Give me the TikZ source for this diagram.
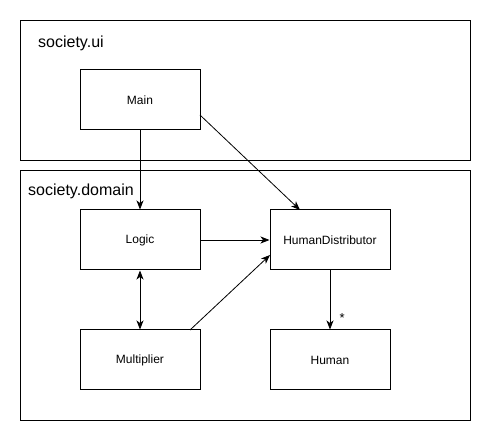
\documentclass[tikz,border=0pt]{standalone}
\usepackage{fontspec}
\setmainfont{Liberation Sans}
\usetikzlibrary{arrows.meta}
\begin{document}
\begin{tikzpicture}[x=1pt,y=-1pt,
  pkg/.style={draw,line width=1pt,minimum width=450pt,minimum height=#1,anchor=north west,inner sep=0pt},
  cls/.style={draw,line width=1pt,minimum width=120pt,minimum height=60pt,inner sep=0pt,font=\fontsize{12}{14}\selectfont},
  pkglabel/.style={anchor=base west,inner sep=0pt,font=\fontsize{16}{19}\selectfont},
  conn/.style={line width=0.8pt,-{Stealth[length=9pt,width=7pt,inset=2.5pt]}},
  biconn/.style={line width=0.8pt,{Stealth[length=9pt,width=7pt,inset=2.5pt]}-{Stealth[length=9pt,width=7pt,inset=2.5pt]}}]
\useasboundingbox (0,0) rectangle (491,441);
\node[pkg=140pt] (ui) at (20,20) {};
\node[pkg=250pt] (dom) at (20,170) {};
\node[pkglabel] (uil) at (38,48) {society.ui};
\node[pkglabel] (doml) at (28,196) {society.domain};
\node[cls] (main) at (140,100) {Main};
\node[cls] (logic) at (140,240) {Logic};
\node[cls] (hd) at (330,240) {HumanDistributor};
\node[cls] (mult) at (140,360) {Multiplier};
\node[cls] (human) at (330,360) {Human};
\coordinate (mainr) at (200,115);
\coordinate (hdt) at (300,210);
\coordinate (multt) at (190,330);
\coordinate (hdl) at (270,255);
\draw[conn] (main.south) -- (logic.north);
\draw[conn] (mainr) -- (hdt);
\draw[conn] (logic.east) -- (hd.west);
\draw[biconn] (logic.south) -- (mult.north);
\draw[conn] (multt) -- (hdl);
\draw[conn] (hd.south) -- node[pos=0.8,right,xshift=6pt,font=\fontsize{13}{15}\selectfont] (star) {*} (human.north);
\end{tikzpicture}
\end{document}
